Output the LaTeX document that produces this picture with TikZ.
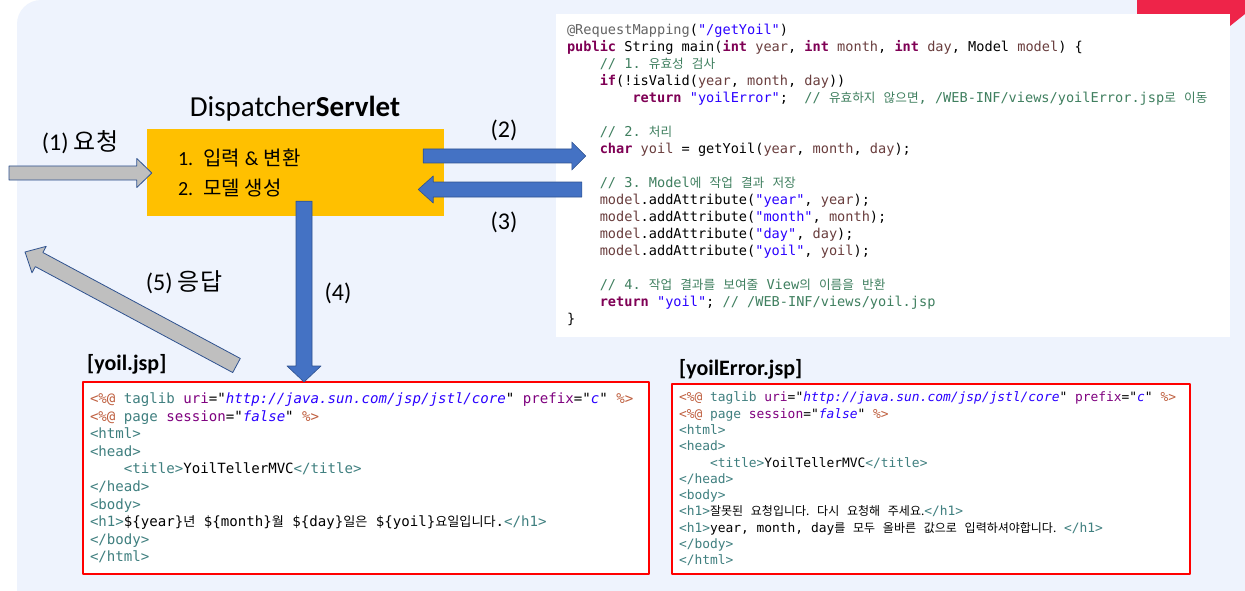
\documentclass[tikz,border=0pt]{standalone}
\usepackage{fontspec}
\setmainfont{Carlito}
\setmonofont{DejaVu Sans Mono}
\newfontfamily\kr{Noto Sans CJK KR}
\newfontfamily\krm[Scale=0.93]{Noto Sans CJK KR}
\usetikzlibrary{calc,positioning}

\definecolor{bgblue}{HTML}{EEF3FD}
\definecolor{slidered}{HTML}{EE2449}
\definecolor{dispgold}{HTML}{FFC000}
\definecolor{arrowblue}{HTML}{4472C4}
\definecolor{arrowedge}{HTML}{2F528F}
\definecolor{arrowgray}{HTML}{BFBFBF}
\definecolor{kwcol}{HTML}{7F0055}
\definecolor{strcol}{HTML}{2A00FF}
\definecolor{cmtcol}{HTML}{3F7F5F}
\definecolor{anncol}{HTML}{646464}
\definecolor{varcol}{HTML}{6A3E3E}
\definecolor{tagcol}{HTML}{3F7F7F}
\definecolor{attcol}{HTML}{7F007F}
\definecolor{dircol}{HTML}{BF5F3F}

\newcommand\jkw[1]{{\bfseries\color{kwcol}#1}}
\newcommand\jstr[1]{{\color{strcol}#1}}
\newcommand\jcmt[1]{{\color{cmtcol}#1}}
\newcommand\jann[1]{{\color{anncol}#1}}
\newcommand\jvar[1]{{\color{varcol}#1}}
\newcommand\jtag[1]{{\color{tagcol}#1}}
\newcommand\jatt[1]{{\color{attcol}#1}}
\newcommand\jdir[1]{{\color{dircol}#1}}
\newcommand\jval[1]{{\itshape\color{strcol}#1}}
\newcommand\codespaces{\spaceskip=0.6021em\relax\xspaceskip=0.6021em\relax}
% 한글 구간: 고정폭 글꼴의 공백 폭을 그대로 씀
\newcommand\ko[1]{\begingroup\edef\kosp{\the\fontdimen2\font}\krm\spaceskip=\kosp\relax\xspaceskip=\kosp\relax#1\endgroup}

\begin{document}
\begin{tikzpicture}[x=1pt,y=-1pt,line join=round,
    grayarrow/.style={fill=arrowgray,draw=arrowedge,line width=0.8pt},
    bluearrow/.style={fill=arrowblue,draw=arrowedge,line width=0.6pt},
    jspbox/.style={draw=red,line width=2pt,fill=white,inner xsep=7pt,inner ysep=0pt,align=left},
    lbl/.style={font=\fontsize{24}{28}\selectfont}]
  \useasboundingbox (0,0) rectangle (1245,591);
  % 배경과 오른쪽 위 띠
  \fill[white] (0,0) rectangle (1245,591);
  \fill[bgblue,rounded corners=24pt] (17,0) rectangle (1300,650);
  \fill[slidered] (1137,0) -- (1245,0) -- (1245,14) -- (1230,26) -- (1137,26) -- cycle;
  % 컨트롤러 코드
  \node[fill=white,minimum width=674pt,minimum height=323pt,inner sep=0pt] (ctrl) at (893,175.5) {};
  \node[anchor=north west,inner sep=0pt,align=left,font=\ttfamily\fontsize{13.6}{17}\selectfont]
    (ctrlcode) at ($(ctrl.north west)+(11,10)$) {\codespaces
    \jann{@RequestMapping}(\jstr{"/getYoil"})\\
    \jkw{public} String main(\jkw{int} \jvar{year}, \jkw{int} \jvar{month}, \jkw{int} \jvar{day}, Model \jvar{model}) \{\\
    ~~~~\jcmt{// 1. \ko{유효성 검사}}\\
    ~~~~\jkw{if}(!isValid(\jvar{year}, \jvar{month}, \jvar{day}))\\
    ~~~~~~~~\jkw{return} \jstr{"yoilError"};~~\jcmt{// \ko{유효하지 않으면}, /WEB-INF/views/yoilError.jsp\ko{로 이동}}\\
    \mbox{}\\
    ~~~~\jcmt{// 2. \ko{처리}}\\
    ~~~~\jkw{char} \jvar{yoil} = getYoil(\jvar{year}, \jvar{month}, \jvar{day});\\
    \mbox{}\\
    ~~~~\jcmt{// 3. Model\ko{에 작업 결과 저장}}\\
    ~~~~\jvar{model}.addAttribute(\jstr{"year"}, \jvar{year});\\
    ~~~~\jvar{model}.addAttribute(\jstr{"month"}, \jvar{month});\\
    ~~~~\jvar{model}.addAttribute(\jstr{"day"}, \jvar{day});\\
    ~~~~\jvar{model}.addAttribute(\jstr{"yoil"}, \jvar{yoil});\\
    \mbox{}\\
    ~~~~\jcmt{// 4. \ko{작업 결과를 보여줄} View\ko{의 이름을 반환}}\\
    ~~~~\jkw{return} \jstr{"yoil"}; \jcmt{// /WEB-INF/views/yoil.jsp}\\
    \}};
  % DispatcherServlet
  \node[fill=dispgold,minimum height=87pt,inner xsep=31pt,inner ysep=0pt,text width=235pt,align=left,
        font=\fontsize{20}{30}\selectfont] (disp) at (295.5,172.5) {\spaceskip=0.25em\relax
        1. {\kr 입력} \& {\kr 변환}\\2. {\kr 모델 생성}};
  \node[font=\fontsize{29}{34}\selectfont] (title) at (295,109) {Dispatcher\textbf{Servlet}};
  % 뷰 (JSP)
  \node[jspbox,text width=552pt,minimum height=192pt,font=\ttfamily\fontsize{14.1}{17.6}\selectfont] (yoil) at (366,478) {\codespaces
    \jdir{<\%@} \jtag{taglib} \jatt{uri}="\jval{http://java.sun.com/jsp/jstl/core}" \jatt{prefix}="\jval{c}" \jdir{\%>}\\
    \jdir{<\%@} \jtag{page} \jatt{session}="\jval{false}" \jdir{\%>}\\
    \jtag{<html>}\\
    \jtag{<head>}\\
    ~~~~\jtag{<title>}YoilTellerMVC\jtag{</title>}\\
    \jtag{</head>}\\
    \jtag{<body>}\\
    \jtag{<h1>}\$\{year\}\ko{년} \$\{month\}\ko{월} \$\{day\}\ko{일은} \$\{yoil\}\ko{요일입니다}.\jtag{</h1>}\\
    \jtag{</body>}\\
    \jtag{</html>}};
  \node[jspbox,text width=504pt,minimum height=190pt,font=\ttfamily\fontsize{12.9}{16.3}\selectfont] (yoilerr) at (931,479) {\codespaces
    \jdir{<\%@} \jtag{taglib} \jatt{uri}="\jval{http://java.sun.com/jsp/jstl/core}" \jatt{prefix}="\jval{c}" \jdir{\%>}\\
    \jdir{<\%@} \jtag{page} \jatt{session}="\jval{false}" \jdir{\%>}\\
    \jtag{<html>}\\
    \jtag{<head>}\\
    ~~~~\jtag{<title>}YoilTellerMVC\jtag{</title>}\\
    \jtag{</head>}\\
    \jtag{<body>}\\
    \jtag{<h1>}\ko{잘못된 요청입니다. 다시 요청해 주세요.}\jtag{</h1>}\\
    \jtag{<h1>}year, month, day\ko{를 모두 올바른 값으로 입력하셔야합니다.} \jtag{</h1>}\\
    \jtag{</body>}\\
    \jtag{</html>}};
  \node[font=\bfseries\fontsize{22}{26}\selectfont,anchor=west,inner sep=0pt] (yoillbl) at (87,364) {[yoil.jsp]};
  \node[font=\bfseries\fontsize{22}{26}\selectfont,anchor=west,inner sep=0pt] (errlbl) at (679,369) {[yoilError.jsp]};
  % 화살표 끝점
  \coordinate (req) at (9,173);
  \coordinate (in1) at ($(disp.west)+(5,0.5)$);
  \coordinate (out2) at ($(disp.east)+(-21,-16.5)$);
  \coordinate (in2) at ($(ctrl.west)+(30,-19.5)$);
  \coordinate (out3) at ($(ctrl.west)+(26,14)$);
  \coordinate (in3) at ($(disp.east)+(-26,17)$);
  \coordinate (out4) at ($(disp.south)+(8.5,-15)$);
  \coordinate (in4) at ($(yoil.north)+(-62,1)$);
  \coordinate (out5) at ($(yoil.north west)+(154.5,-15.5)$);
  \coordinate (resp) at (25,252);
  \foreach \tail/\tip/\sw/\hw/\hl/\kind in {req/in1/7/14.5/15/grayarrow, out2/in2/7/14/14/bluearrow,
      out3/in3/7.5/13.5/15/bluearrow, out4/in4/8/17/16/bluearrow, out5/resp/8/15/16/grayarrow} {
    \coordinate (hb) at ($(\tip)!\hl pt!(\tail)$);
    \draw[\kind] ($(\tail)!\sw pt!90:(\tip)$) -- ($(hb)!\sw pt!90:(\tip)$) -- ($(hb)!\hw pt!90:(\tip)$) -- (\tip)
      -- ($(hb)!\hw pt!-90:(\tip)$) -- ($(hb)!\sw pt!-90:(\tip)$) -- ($(\tail)!\sw pt!-90:(\tip)$) -- cycle;
  }
  % 단계 번호
  \node[lbl] (lreq) at (80,142) {(1) {\kr 요청}};
  \node[lbl] (l2) at (504,130) {(2)};
  \node[lbl] (l3) at (504,222) {(3)};
  \node[lbl] (l4) at (338,293) {(4)};
  \node[lbl] (lresp) at (184,282) {(5) {\kr 응답}};
\end{tikzpicture}
\end{document}
